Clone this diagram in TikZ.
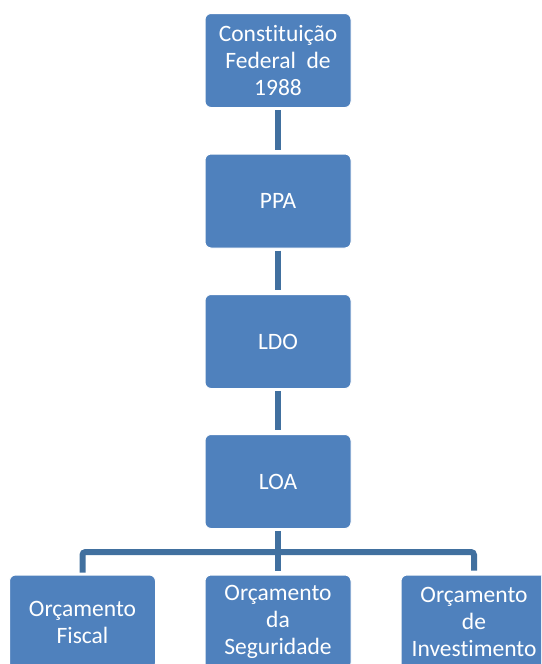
\documentclass[tikz,border=0pt]{standalone}
\usepackage{fontspec}
\setmainfont[Ligatures={NoCommon}]{Carlito}
\definecolor{boxblue}{HTML}{4F81BD}
\definecolor{linkblue}{HTML}{41709F}
\begin{document}
\begin{tikzpicture}[x=1pt,y=-1pt,
  bx/.style={draw=white,line width=1pt,fill=boxblue,rounded corners=6pt,minimum width=146pt,minimum height=94pt,
    text=white,align=center,inner sep=0pt,font=\fontsize{23.5}{27}\selectfont},
  conn/.style={draw=linkblue,line width=6pt,shorten <=2pt,shorten >=4pt}]
\useasboundingbox (0,0) rectangle (541,664);
\begin{scope}
\clip (0,0) rectangle (541,664);
\node[bx] (cf) at (278,60.5) {Constituição\\Federal~ de\\1988};
\node[bx] (ppa) at (278,201) {PPA};
\node[bx] (ldo) at (278,341.5) {LDO};
\node[bx] (loa) at (278,481.5) {LOA};
\node[bx] (fis) at (82.5,622) {Orçamento\\Fiscal};
\node[bx] (seg) at (278,622) {Orçamento\\da\\Seguridade};
\node[bx] (inv) at (474,622) {Orçamento\\de\\Investimento};
\coordinate (bar) at (278,552);
\draw[conn] (cf) -- (ppa);
\draw[conn] (ppa) -- (ldo);
\draw[conn] (ldo) -- (loa);
\draw[conn] (loa) -- (seg);
\draw[conn,rounded corners=3pt] (fis.north) |- (bar) -| (inv.north);
\end{scope}
\end{tikzpicture}
\end{document}
